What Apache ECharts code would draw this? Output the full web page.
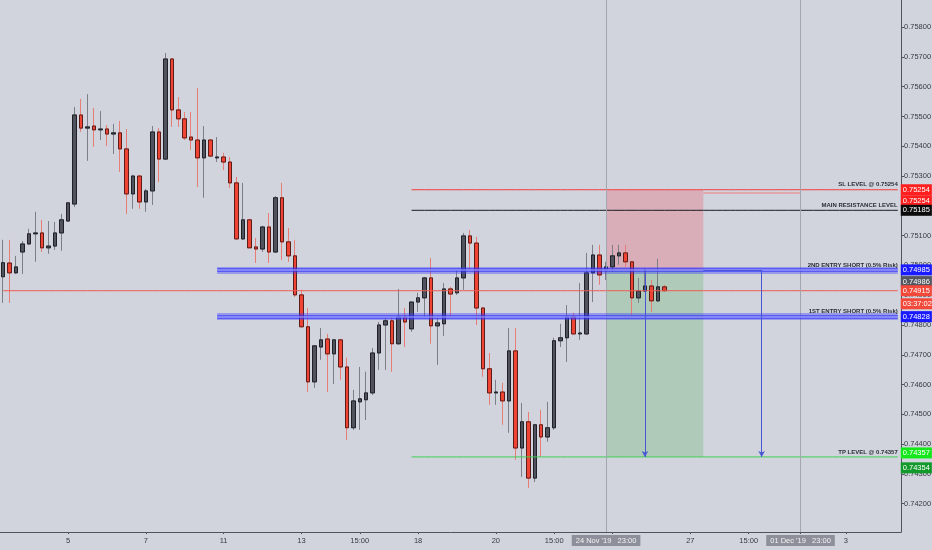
<!DOCTYPE html>
<html>
<head>
<meta charset="utf-8">
<title>AUDUSD 4H - short setup</title>
<script src="https://cdn.jsdelivr.net/npm/echarts@6/dist/echarts.min.js"></script>
<style>
  html, body { margin: 0; padding: 0; background: #d1d4dc; }
  #chart { width: 932px; height: 550px; }
</style>
</head>
<body>
<div id="chart"></div>
<script>
// 4H candles
const opens = [
  0.74962, 0.75008, 0.74975, 0.75045, 0.75072, 0.75106, 0.75109, 0.75059, 0.75065, 0.75109,
  0.75149, 0.75206, 0.75505, 0.75461, 0.75468, 0.75455, 0.75458, 0.75441, 0.75445, 0.75391,
  0.75240, 0.75300, 0.75213, 0.75250, 0.75448, 0.75357, 0.75693, 0.75522, 0.75492, 0.75431,
  0.75421, 0.75361, 0.75421, 0.75361, 0.75364, 0.75347, 0.75277, 0.75089, 0.75153, 0.75062,
  0.75055, 0.75129, 0.75045, 0.75227, 0.75079, 0.75032, 0.74901, 0.74794, 0.74609, 0.74726,
  0.74753, 0.74703, 0.74750, 0.74659, 0.74455, 0.74542, 0.74549, 0.74572, 0.74706, 0.74800,
  0.74814, 0.74737, 0.74827, 0.74787, 0.74877, 0.74891, 0.74958, 0.74797, 0.74804, 0.74921,
  0.74908, 0.74958, 0.75099, 0.75075, 0.74857, 0.74653, 0.74572, 0.74575, 0.74545, 0.74713,
  0.74387, 0.74475, 0.74286, 0.74465, 0.74424, 0.74455, 0.74747, 0.74757, 0.74827, 0.74770,
  0.74770, 0.74975, 0.75035, 0.74988, 0.74995, 0.75032, 0.75042, 0.75012, 0.74891, 0.74914,
  0.74931, 0.74881, 0.74928
];
const closes = [
  0.75009, 0.74975, 0.74995, 0.75072, 0.75106, 0.75109, 0.75059, 0.75065, 0.75109, 0.75153,
  0.75210, 0.75505, 0.75461, 0.75465, 0.75455, 0.75458, 0.75441, 0.75445, 0.75391, 0.75240,
  0.75300, 0.75213, 0.75250, 0.75448, 0.75357, 0.75693, 0.75522, 0.75492, 0.75428, 0.75421,
  0.75361, 0.75421, 0.75367, 0.75364, 0.75347, 0.75277, 0.75089, 0.75153, 0.75059, 0.75055,
  0.75129, 0.75045, 0.75227, 0.75079, 0.75032, 0.74901, 0.74794, 0.74609, 0.74730, 0.74750,
  0.74703, 0.74750, 0.74659, 0.74455, 0.74545, 0.74552, 0.74572, 0.74706, 0.74800, 0.74814,
  0.74737, 0.74827, 0.74810, 0.74877, 0.74891, 0.74958, 0.74797, 0.74807, 0.74921, 0.74904,
  0.74958, 0.75099, 0.75075, 0.74857, 0.74653, 0.74572, 0.74575, 0.74545, 0.74713, 0.74387,
  0.74475, 0.74286, 0.74465, 0.74424, 0.74455, 0.74747, 0.74757, 0.74827, 0.74770, 0.74773,
  0.74975, 0.75035, 0.74968, 0.74995, 0.75032, 0.75042, 0.75012, 0.74891, 0.74914, 0.74931,
  0.74881, 0.74928, 0.74915
];
const lows = [
  0.74874, 0.74874, 0.74971, 0.74971, 0.75069, 0.75012, 0.75045, 0.75039, 0.75052, 0.75049,
  0.75146, 0.75196, 0.75448, 0.75351, 0.75398, 0.75421, 0.75401, 0.75374, 0.75314, 0.75173,
  0.75190, 0.75190, 0.75180, 0.75203, 0.75280, 0.75354, 0.75465, 0.75465, 0.75421, 0.75388,
  0.75263, 0.75227, 0.75364, 0.75347, 0.75320, 0.75260, 0.75086, 0.75086, 0.75059, 0.75008,
  0.75045, 0.75008, 0.75042, 0.75018, 0.75012, 0.74894, 0.74790, 0.74575, 0.74589, 0.74683,
  0.74575, 0.74602, 0.74616, 0.74414, 0.74448, 0.74448, 0.74481, 0.74565, 0.74649, 0.74649,
  0.74643, 0.74733, 0.74726, 0.74777, 0.74844, 0.74827, 0.74737, 0.74666, 0.74763, 0.74827,
  0.74901, 0.74918, 0.74985, 0.74800, 0.74626, 0.74532, 0.74532, 0.74465, 0.74438, 0.74347,
  0.74290, 0.74253, 0.74273, 0.74357, 0.74408, 0.74448, 0.74726, 0.74676, 0.74767, 0.74750,
  0.74767, 0.74877, 0.74935, 0.74951, 0.74978, 0.75002, 0.74995, 0.74834, 0.74874, 0.74911,
  0.74844, 0.74877, 0.74914
];
const highs = [
  0.75086, 0.75086, 0.75032, 0.75082, 0.75123, 0.75180, 0.75153, 0.75149, 0.75146, 0.75173,
  0.75210, 0.75532, 0.75559, 0.75575, 0.75529, 0.75518, 0.75471, 0.75475, 0.75485, 0.75458,
  0.75304, 0.75304, 0.75257, 0.75468, 0.75461, 0.75713, 0.75696, 0.75565, 0.75515, 0.75515,
  0.75596, 0.75468, 0.75424, 0.75431, 0.75378, 0.75364, 0.75297, 0.75277, 0.75156, 0.75092,
  0.75133, 0.75176, 0.75233, 0.75277, 0.75126, 0.75086, 0.74918, 0.74857, 0.74730, 0.74790,
  0.74770, 0.74753, 0.74753, 0.74690, 0.74582, 0.74659, 0.74643, 0.74723, 0.74810, 0.74824,
  0.74827, 0.74921, 0.74857, 0.74877, 0.74908, 0.74961, 0.75025, 0.74824, 0.74941, 0.74928,
  0.74985, 0.75109, 0.75119, 0.75096, 0.74861, 0.74706, 0.74616, 0.74606, 0.74790, 0.74790,
  0.74538, 0.74508, 0.74468, 0.74515, 0.74542, 0.74757, 0.74804, 0.74867, 0.74841, 0.74941,
  0.75042, 0.75069, 0.75069, 0.75012, 0.75069, 0.75069, 0.75069, 0.75012, 0.74958, 0.74992,
  0.74951, 0.75022, 0.74935
];

// time axis: 139 bar slots, only some of them labelled
const slotCount = 139;
const tickIdx  = [10, 22, 34, 46, 55, 64, 76, 85, 94, 106, 115, 123, 130];
const tickText = ['5', '7', '11', '13', '15:00', '18', '20', '15:00', '25', '27', '15:00', 'Dec', '3'];
const priceTicks = [0.742, 0.743, 0.744, 0.745, 0.746, 0.747, 0.748, 0.749, 0.750,
                    0.751, 0.752, 0.753, 0.754, 0.755, 0.756, 0.757, 0.758];

// drawn levels
const levelSL = 0.75254, slUpper = 0.75243, levelRes = 0.75185;
const entry2 = 0.74985, entry1 = 0.74828, levelTP = 0.74357, tpFill = 0.74354;
const lastPrice = 0.74915, bidPrice = 0.74986;
// where the drawings sit on the time axis (slot index)
const bandFrom = 33, levelFrom = 63, posFrom = 93, posTo = 108, lastSlot = 138;
const arrow1 = 99, arrow2 = 117, dateMark1 = 93, dateMark2 = 123;

const categories = Array.from({ length: slotCount }, (_, i) => String(i));
const labelOf = {};
tickIdx.forEach((k, i) => { labelOf[k] = tickText[i]; });

const candles = opens.map((o, i) => [o, closes[i], lows[i], highs[i]]);
const bodies = opens.map((o, i) => [o, closes[i], Math.min(o, closes[i]), Math.max(o, closes[i])]);

const font = '"Liberation Sans", Arial, sans-serif';

// a flat line between two slots, drawn as an ordinary line series
function flat(name, from, to, value, color) {
  return {
    name: name, type: 'line', silent: true, showSymbol: false, symbol: 'none', z: 4,
    data: categories.map((_, i) => (i >= from && i <= to ? value : null)),
    lineStyle: { color: color, width: 1 },
    itemStyle: { color: color }
  };
}
// an empty line series that only carries a markLine
function marks(name, lineStyle, label, data, extra) {
  return {
    name: name, type: 'line', data: [], silent: true,
    markLine: Object.assign({
      silent: true, animation: false, symbol: 'none',
      lineStyle: Object.assign({ type: 'solid', width: 1, opacity: 1 }, lineStyle),
      label: label || { show: false },
      data: data
    }, extra || {})
  };
}
function hline(from, to, value) {
  return [{ coord: [from, value] }, { coord: [to, value] }];
}
const clear = { color: 'rgba(0,0,0,0)', width: 0 };
function levelText(name, from, value, text) {
  return marks(name, clear, {
    show: true, position: 'insideEndTop', formatter: text, distance: [0, 2],
    color: '#2a2e39', fontSize: 6, fontWeight: 'bold', fontFamily: font
  }, [hline(from, lastSlot, value)], { z: 6 });
}
function tag(name, value, text, bg, dy) {
  return marks(name, clear, {
    show: true, position: 'end', formatter: text, distance: 3,
    backgroundColor: bg, color: '#fff', fontSize: 7.5, fontFamily: font,
    padding: [2, 2, 1, 2], offset: [0, dy]
  }, [hline(lastSlot - 1, lastSlot, value)], { z: 8 });
}
function dateMark(name, slot, text) {
  return marks(name, { color: '#a3a6af' }, {
    show: true, position: 'start', formatter: text, distance: 3,
    backgroundColor: '#8d909a', color: '#f2f3f5', fontSize: 7.5, fontFamily: font, padding: [2, 4, 1, 4]
  }, [{ xAxis: slot }]);
}
function arrowDown(slot) {
  return [{ coord: [slot, entry2], symbol: 'none' }, { coord: [slot, levelTP], symbol: 'arrow', symbolSize: [5, 6] }];
}

const chart = echarts.init(document.getElementById('chart'));
chart.setOption({
  backgroundColor: '#d1d4dc',
  animation: false,
  textStyle: { fontFamily: font },
  grid: { left: 0, right: 31, top: 0, bottom: 18, containLabel: false, outerBoundsMode: 'none' },
  xAxis: {
    type: 'category',
    data: categories,
    boundaryGap: true,
    axisLine: { lineStyle: { color: '#50535e' } },
    axisTick: {
      show: true, alignWithLabel: true, length: 2,
      interval: (i) => labelOf[i] !== undefined,
      lineStyle: { color: '#50535e' }
    },
    axisLabel: {
      interval: (i) => labelOf[i] !== undefined,
      formatter: (v) => labelOf[Number(v)] || '',
      fontSize: 7.5, color: '#363a45', margin: 5
    },
    splitLine: { show: false }
  },
  yAxis: {
    type: 'value',
    position: 'right',
    min: 0.74105,
    max: 0.75891,
    axisLine: { show: true, lineStyle: { color: '#50535e' } },
    axisTick: { show: true, length: 3, customValues: priceTicks, lineStyle: { color: '#50535e' } },
    axisLabel: {
      customValues: priceTicks,
      formatter: (v) => v.toFixed(5),
      fontSize: 7.5, color: '#363a45', margin: 3
    },
    splitLine: { show: false }
  },
  series: [
    {
      name: 'wicks',
      type: 'candlestick',
      data: candles,
      barWidth: 4,
      itemStyle: {
        color: '#50535e', color0: '#ef4434',
        borderColor: '#7c7f88', borderColor0: '#e87d76', borderWidth: 1
      },
      markArea: {
        silent: true,
        data: [
          [{ coord: [posFrom, levelSL], itemStyle: { color: 'rgba(242,54,69,0.24)' } }, { coord: [posTo, entry2] }],
          [{ coord: [posFrom, entry2], itemStyle: { color: 'rgba(76,175,80,0.26)' } }, { coord: [posTo, levelTP] }]
        ]
      }
    },
    {
      name: 'bodies',
      type: 'candlestick',
      z: 3,
      data: bodies,
      barWidth: 4,
      itemStyle: {
        color: '#50535e', color0: '#ef4434',
        borderColor: '#1f2127', borderColor0: '#5c1c17', borderWidth: 1
      }
    },
    dateMark('date 1', dateMark1, "24 Nov '19   23:00"),
    dateMark('date 2', dateMark2, "01 Dec '19   23:00"),
    flat('last price', 0, lastSlot, lastPrice, '#ef5a50'),
    flat('sl', levelFrom, lastSlot, levelSL, '#f23b3b'),
    flat('sl upper', posTo, dateMark2, slUpper, '#ec7a7a'),
    flat('resistance', levelFrom, lastSlot, levelRes, '#1a1c22'),
    flat('tp', levelFrom, lastSlot, levelTP, '#3fd152'),
    marks('entry halo', { color: 'rgba(60,60,255,0.38)', width: 7 }, null,
          [hline(bandFrom, lastSlot, entry2), hline(bandFrom, lastSlot, entry1)]),
    marks('entry edge', { color: 'rgba(40,40,250,0.55)', width: 4 }, null,
          [hline(bandFrom, lastSlot, entry2), hline(bandFrom, lastSlot, entry1)]),
    marks('entry core', { color: 'rgba(190,190,250,0.6)', width: 1.5 }, null,
          [hline(bandFrom, lastSlot, entry2), hline(bandFrom, lastSlot, entry1)]),
    marks('targets', { color: '#4656d6' }, null,
          [hline(posTo, arrow2, entry2), arrowDown(arrow1), arrowDown(arrow2)]),
    levelText('sl text', levelFrom, levelSL, 'SL LEVEL @ 0.75254'),
    levelText('res text', levelFrom, levelRes, 'MAIN RESISTANCE LEVEL'),
    levelText('e2 text', bandFrom, entry2, '2ND ENTRY SHORT (0.5% Risk)'),
    levelText('e1 text', bandFrom, entry1, '1ST ENTRY SHORT (0.5% Risk)'),
    levelText('tp text', levelFrom, levelTP, 'TP LEVEL @ 0.74357'),
    tag('tag sl', levelSL, levelSL.toFixed(5), '#ff1f1f', 0),
    tag('tag sl 2', levelSL, levelSL.toFixed(5), '#ff1f1f', 11),
    tag('tag res', levelRes, levelRes.toFixed(5), '#0b0b0b', 0),
    tag('tag e2', entry2, entry2.toFixed(5), '#1a1aff', 0),
    tag('tag bid', bidPrice, bidPrice.toFixed(5), '#54575f', 12),
    tag('tag last', lastPrice, lastPrice.toFixed(5), '#f3493b', 0),
    tag('tag timer', lastPrice, '03:37:02', '#f3493b', 13),
    tag('tag e1', entry1, entry1.toFixed(5), '#1a1aff', 0),
    tag('tag tp', levelTP, levelTP.toFixed(5), '#14e81a', -4),
    tag('tag fill', tpFill, tpFill.toFixed(5), '#119a2a', 10)
  ]
});
</script>
</body>
</html>
